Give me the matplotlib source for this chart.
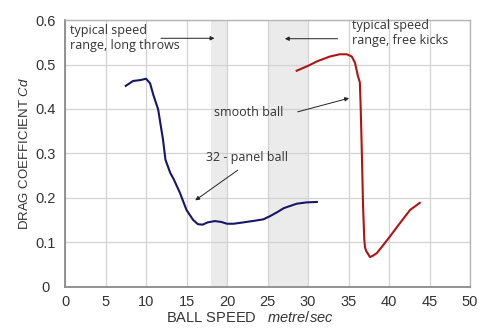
import matplotlib
matplotlib.use("Agg")
import matplotlib.pyplot as plt

# ---- data ----
panel_speed = [7.5, 8.4, 9.3, 10.0, 10.5, 10.9, 11.5, 12.1, 12.4, 13.0, 13.4, 14.2, 15.0, 15.8,
               16.4, 17.0, 17.6, 18.5, 19.3, 20.0, 20.8, 22.0, 23.5, 24.5, 25.3, 26.2, 27.0,
               28.6, 29.8, 31.1]
panel_cd = [0.452, 0.463, 0.465, 0.468, 0.458, 0.432, 0.399, 0.331, 0.286, 0.256, 0.243, 0.211,
            0.173, 0.151, 0.141, 0.140, 0.145, 0.148, 0.146, 0.142, 0.142, 0.145, 0.149, 0.152,
            0.159, 0.168, 0.177, 0.187, 0.190, 0.191]

smooth_speed = [28.6, 30.0, 31.1, 32.7, 33.9, 34.8, 35.4, 35.8, 36.15, 36.3, 36.4, 36.5, 36.65,
                36.8, 36.95, 37.05, 37.2, 37.35, 37.65, 38.0, 38.5, 39.2, 40.1, 41.0,
                42.6, 43.8]
smooth_cd = [0.486, 0.497, 0.507, 0.518, 0.523, 0.523, 0.518, 0.504, 0.475, 0.466, 0.460, 0.406,
             0.300, 0.180, 0.106, 0.088, 0.080, 0.076, 0.067, 0.070, 0.076, 0.092, 0.113,
             0.135, 0.173, 0.189]

shade_ranges = [(18, 20), (25, 30)]
x_ticks = [0, 5, 10, 15, 20, 25, 30, 35, 40, 45, 50]
y_ticks = [0, 0.1, 0.2, 0.3, 0.4, 0.5, 0.6]
y_ticklabels = ["0", "0.1", "0.2", "0.3", "0.4", "0.5", "0.6"]

plt.rcParams["mathtext.fontset"] = "custom"
plt.rcParams["mathtext.it"] = "Liberation Sans:italic"
plt.rcParams["mathtext.rm"] = "Liberation Sans"

fig = plt.figure(figsize=(5.0, 3.34), dpi=100)
ax = fig.add_axes([0.13, 0.141, 0.81, 0.799])

tick_font = dict(family="Liberation Sans", size=10.5, color="#333333")
note_font = dict(family="Open Sans", size=9, color="#333333")

for a, b in shade_ranges:
    ax.axvspan(a, b, color="#ebebeb", zorder=0.1, lw=0)

ax.set_axisbelow(True)
ax.grid(True, color="#d3d3d3", lw=0.9)

ax.plot(panel_speed, panel_cd, color="#16166b", lw=1.5, zorder=3)
ax.plot(smooth_speed, smooth_cd, color="#b01414", lw=1.5, zorder=3)

ax.set_xlim(0, 50)
ax.set_ylim(0, 0.6)
ax.set_xticks(x_ticks)
ax.set_yticks(y_ticks)
ax.set_xticklabels([str(v) for v in x_ticks], **tick_font)
ax.set_yticklabels(y_ticklabels, **tick_font)
for lab in ax.get_yticklabels():
    lab.set_horizontalalignment("center")
ax.tick_params(axis="y", length=0, pad=14)
ax.tick_params(axis="x", length=0, pad=6)

for s in ["left", "bottom"]:
    ax.spines[s].set_color("#8a8a8a")
    ax.spines[s].set_linewidth(1.3)
for s in ["top", "right"]:
    ax.spines[s].set_color("#b5b5b5")
    ax.spines[s].set_linewidth(1.0)

ax.set_ylabel(r"DRAG COEFFICIENT $\mathit{Cd}$", family="Liberation Sans", size=9.5,
              color="#333333", labelpad=3)
ax.text(22.8, -0.116, r"BALL SPEED   $\mathit{metre/sec}$", transform=ax.get_xaxis_transform(),
        ha="center", va="center", family="Liberation Sans", size=10.5, color="#333333")

ax.text(0.6, 0.590, "typical speed\nrange, long throws", ha="left", va="top",
        linespacing=1.2, **note_font)
ax.text(35.4, 0.603, "typical speed\nrange, free kicks", ha="left", va="top",
        linespacing=1.2, **note_font)
ax.text(22.7, 0.392, "smooth ball", ha="center", va="center", **note_font)
ax.text(22.5, 0.290, "32 - panel ball", ha="center", va="center", **note_font)

arrow = dict(arrowstyle="-|>", color="#222222", lw=0.7, mutation_scale=6)
ax.annotate("", xy=(18.8, 0.559), xytext=(11.5, 0.559), arrowprops=arrow)
ax.annotate("", xy=(26.8, 0.558), xytext=(34.0, 0.558), arrowprops=arrow)
ax.annotate("", xy=(35.4, 0.426), xytext=(28.4, 0.392), arrowprops=arrow)
ax.annotate("", xy=(15.8, 0.191), xytext=(21.6, 0.266), arrowprops=arrow)

fig.savefig("out.png", dpi=100)
